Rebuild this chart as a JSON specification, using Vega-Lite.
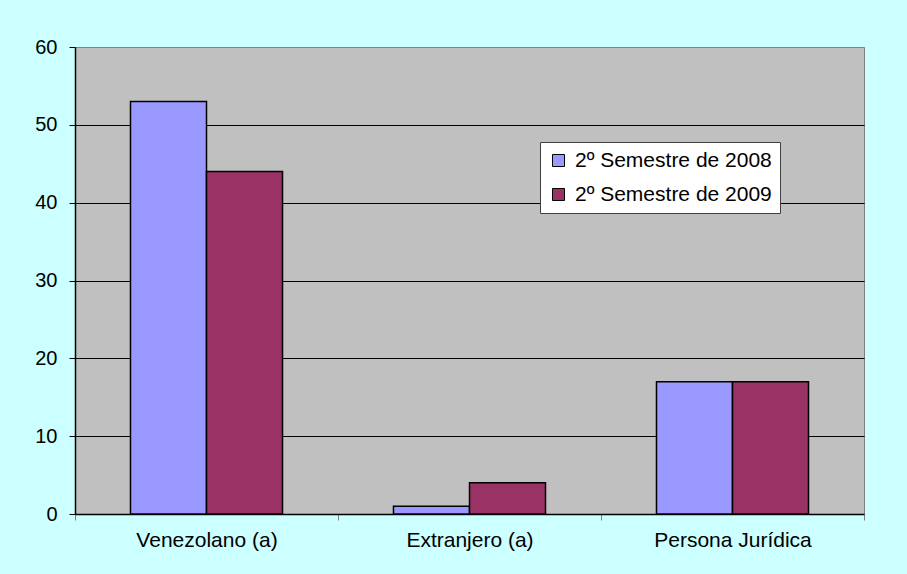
{
  "$schema": "https://vega.github.io/schema/vega-lite/v6.json",
  "autosize": "none",
  "width": 789,
  "height": 467,
  "padding": {"left": 75, "top": 47, "right": 43, "bottom": 60},
  "background": "#CCFFFF",
  "config": {
    "font": "Liberation Sans",
    "view": {"fill": "#C0C0C0", "stroke": "#808080", "strokeWidth": 1}
  },
  "data": {
    "values": [
      {"categoria": "Venezolano (a)", "semestre": "2º Semestre de 2008", "valor": 53},
      {"categoria": "Venezolano (a)", "semestre": "2º Semestre de 2009", "valor": 44},
      {"categoria": "Extranjero (a)", "semestre": "2º Semestre de 2008", "valor": 1},
      {"categoria": "Extranjero (a)", "semestre": "2º Semestre de 2009", "valor": 4},
      {"categoria": "Persona Jurídica", "semestre": "2º Semestre de 2008", "valor": 17},
      {"categoria": "Persona Jurídica", "semestre": "2º Semestre de 2009", "valor": 17}
    ]
  },
  "mark": {"type": "bar", "stroke": "black", "strokeWidth": 1.5},
  "encoding": {
    "x": {
      "field": "categoria",
      "type": "nominal",
      "sort": ["Venezolano (a)", "Extranjero (a)", "Persona Jurídica"],
      "scale": {"paddingInner": 0, "paddingOuter": 0},
      "axis": {
        "title": null,
        "labelAngle": 0,
        "labelFontSize": 21,
        "labelColor": "black",
        "labelPadding": 9,
        "tickBand": "extent",
        "tickSize": 6,
        "tickColor": "#808080",
        "domainColor": "black",
        "domainWidth": 1.5
      }
    },
    "xOffset": {
      "field": "semestre",
      "type": "nominal",
      "scale": {"paddingInner": 0, "paddingOuter": 0.73}
    },
    "y": {
      "field": "valor",
      "type": "quantitative",
      "scale": {"domain": [0, 60], "nice": false},
      "axis": {
        "title": null,
        "values": [0, 10, 20, 30, 40, 50, 60],
        "labelFontSize": 20,
        "labelColor": "black",
        "labelPadding": 12,
        "tickSize": 6,
        "tickColor": "black",
        "domainColor": "black",
        "domainWidth": 1.5,
        "grid": true,
        "gridColor": {"condition": {"test": "datum.value == 60 || datum.value == 0", "value": "#808080"}, "value": "black"},
        "gridWidth": 1
      }
    },
    "color": {
      "field": "semestre",
      "type": "nominal",
      "scale": {"domain": ["2º Semestre de 2008", "2º Semestre de 2009"], "range": ["#9999FF", "#993366"]},
      "legend": {
        "title": null,
        "orient": "none",
        "legendX": 465,
        "legendY": 95,
        "fillColor": "white",
        "strokeColor": "#404040",
        "padding": 8,
        "symbolType": "square",
        "symbolSize": 144,
        "symbolStrokeColor": "black",
        "symbolStrokeWidth": 1,
        "symbolOpacity": 1,
        "labelFontSize": 21,
        "labelLimit": 0,
        "labelColor": "black",
        "labelOffset": 6,
        "rowPadding": 12
      }
    }
  }
}
